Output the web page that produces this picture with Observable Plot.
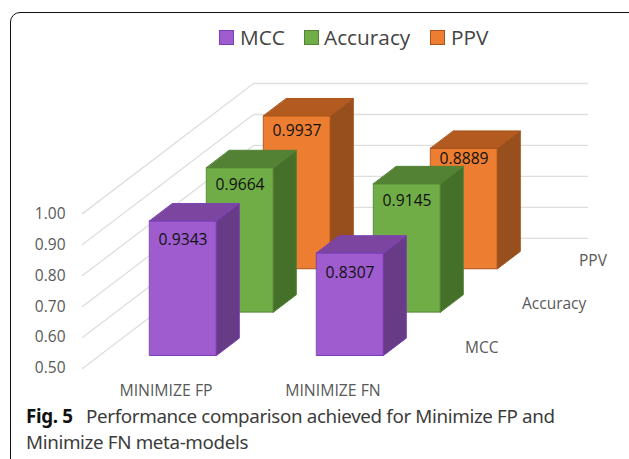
<!DOCTYPE html>
<html>
<head>
<meta charset="utf-8">
<script src="https://cdn.jsdelivr.net/npm/d3@7"></script>
<script src="https://cdn.jsdelivr.net/npm/@observablehq/plot@0.6"></script>
<style>
  html, body { margin: 0; padding: 0; background: #fff; overflow: hidden; }
  #page { position: relative; width: 629px; height: 459px; overflow: hidden; font-family: "Open Sans", sans-serif; }
  #card { position: absolute; left: 10px; top: 12px; width: 640px; height: 470px; border: 1.5px solid #111; border-radius: 10px; box-sizing: border-box; }
  #legend { position: absolute; left: 0; top: 0; width: 629px; height: 52px; color: #444; font-size: 20.8px; }
  #legend span { position: absolute; top: 23px; line-height: 28px; white-space: nowrap; }
  #legend i { position: absolute; top: 30px; width: 13px; height: 13px; border: 1px solid; }
  #chart { position: absolute; left: 0; top: 52px; }
  #caption { position: absolute; left: 26px; top: 404px; width: 600px; font-size: 18.8px; line-height: 25.5px; color: #3c3c3c; font-family: "Noto Sans", sans-serif; letter-spacing: -0.36px; }
  #caption b { color: #111; margin-right: 9px; }
</style>
</head>
<body>
<div id="page">
  <div id="card"></div>
  <div id="legend"></div>
  <div id="chart"></div>
  <div id="caption"><b>Fig. 5</b> Performance comparison achieved for Minimize FP and<br>Minimize FN meta-models</div>
</div>
<script>
const categories = ["MINIMIZE FP", "MINIMIZE FN"];
const seriesNames = ["MCC", "Accuracy", "PPV"];
const mcc = [0.9343, 0.8307];
const accuracy = [0.9664, 0.9145];
const ppv = [0.9937, 0.8889];
const valueTicks = [0.5, 0.6, 0.7, 0.8, 0.9, 1.0];

const frontColors = ["#9e5ccf", "#70ad47", "#ed7d31"];
const topColors = ["#7c46a0", "#548235", "#b35a20"];
const sideColors = ["#673b85", "#45702a", "#964f1d"];
const edgeColors = ["#7a3fb5", "#548235", "#a8541c"];
const legendLeft = [219, 304, 430];
const legendText = [240, 324, 451];

// Oblique projection: every depth step shifts the point right and up.
const depthX = 0.3413, depthY = 0.14;
const barWidth = 0.4, barDepth = 0.4, floor = 0.5;
const px = (d) => d.u + d.w * depthX;
const py = (d) => d.v + d.w * depthY;

const seriesValues = [mcc, accuracy, ppv];
const faces = [];
const labels = [];
for (let s = seriesValues.length - 1; s >= 0; --s) {
  seriesValues[s].forEach((value, c) => {
    const u0 = c + 0.5 - barWidth / 2, u1 = c + 0.5 + barWidth / 2;
    const w0 = s + 0.5 - barDepth / 2, w1 = s + 0.5 + barDepth / 2;
    const face = (name, fill, corners) => corners.forEach(([u, v, w]) =>
      faces.push({face: `${s}-${c}-${name}`, fill, stroke: edgeColors[s], u, v, w}));
    face("front", frontColors[s], [[u0, floor, w0], [u1, floor, w0], [u1, value, w0], [u0, value, w0]]);
    face("side", sideColors[s], [[u1, floor, w0], [u1, floor, w1], [u1, value, w1], [u1, value, w0]]);
    face("top", topColors[s], [[u0, value, w0], [u1, value, w0], [u1, value, w1], [u0, value, w1]]);
    labels.push({u: c + 0.5, v: value, w: w0, text: value.toFixed(4), s, c});
  });
}

const grid = valueTicks.flatMap((v) => [
  {v, u: 0, w: 0}, {v, u: 0, w: 3}, {v, u: 2, w: 3}
]);
const depthLabels = seriesNames.map((name, s) => ({name, u: 2, v: floor, w: s + 0.5}));

const labelDy = (d) => (d.s === 2 && d.c === 1 ? 10.5 : [19.5, 17, 15.5][d.s]);

const chart = Plot.plot({
  width: 629,
  height: 346,
  marginLeft: 82,
  marginRight: 42,
  marginTop: 31,
  marginBottom: 30,
  style: {background: "transparent", overflow: "visible"},
  x: {domain: [0, 2 + 3 * depthX], axis: null},
  y: {domain: [floor, 1 + 3 * depthY], axis: null},
  color: {type: "identity"},
  marks: [
    Plot.line(grid, {x: px, y: py, z: "v", stroke: "#dedede", strokeWidth: 1.3}),
    Plot.axisY({ticks: valueTicks, tickFormat: ".2f", tickSize: 0, tickPadding: 17, fontSize: 15.5, fill: "#595959", label: null, fontFamily: "Open Sans"}),
    Plot.axisX({ticks: [0.5, 1.5], tickFormat: (t) => categories[Math.floor(t)], tickSize: 0, tickPadding: 16, fontSize: 15.8, fill: "#595959", label: null, fontFamily: "Open Sans"}),
    Plot.line(faces, {x: px, y: py, z: "face", fill: "fill", stroke: "stroke", strokeWidth: 1, curve: "linear-closed"}),
    ...labels.map((d) => Plot.text([d], {x: px, y: py, text: "text", dy: labelDy(d), fontSize: 15.7, fill: "#111", fontFamily: "Open Sans"})),
    Plot.text(depthLabels, {x: px, y: py, text: "name", textAnchor: "start", dx: 20, dy: 1, fontSize: 15.5, fill: "#595959", fontFamily: "Open Sans"})
  ]
});
document.getElementById("chart").appendChild(chart);

const legend = document.getElementById("legend");
seriesNames.forEach((name, s) => {
  const swatch = document.createElement("i");
  swatch.style.left = legendLeft[s] + "px";
  swatch.style.background = frontColors[s];
  swatch.style.borderColor = edgeColors[s];
  legend.appendChild(swatch);
  const label = document.createElement("span");
  label.style.left = legendText[s] + "px";
  label.textContent = name;
  legend.appendChild(label);
});
</script>
</body>
</html>
